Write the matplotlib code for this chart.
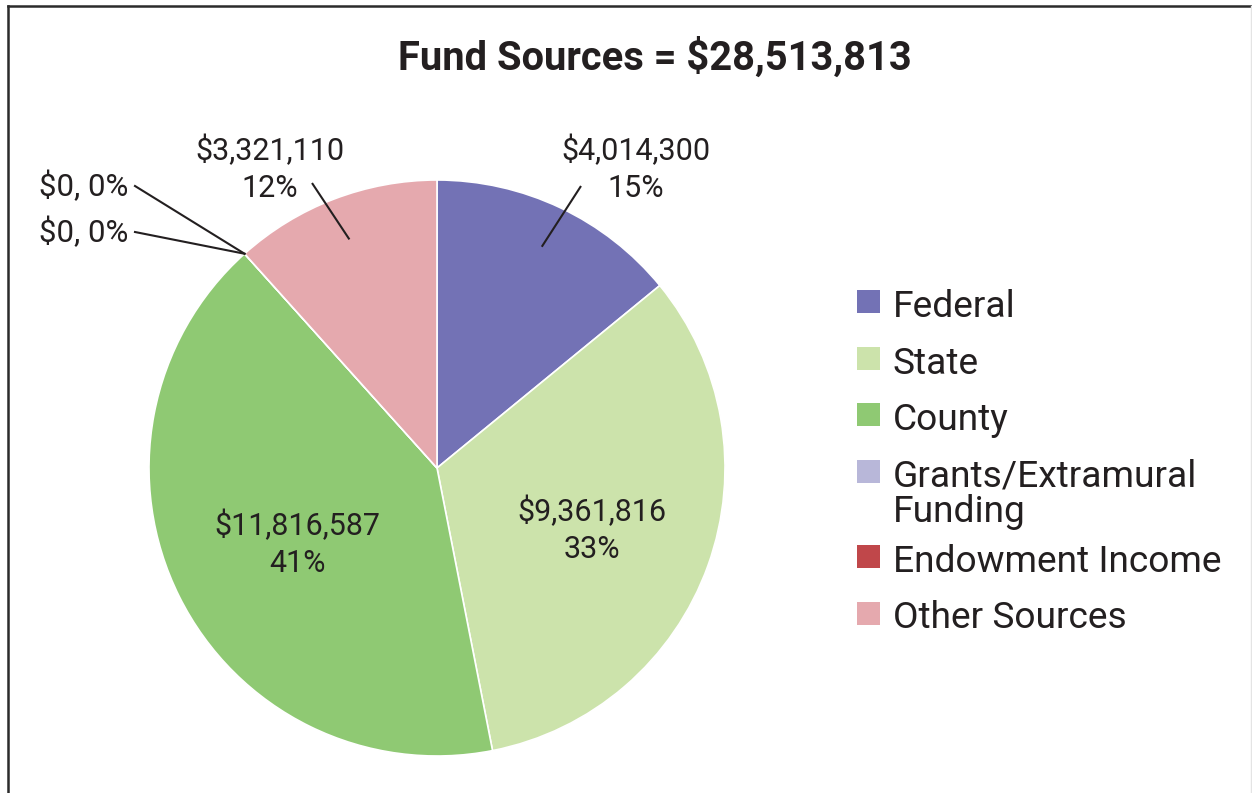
import numpy as np
import matplotlib

matplotlib.use("Agg")
import matplotlib.pyplot as plt  # noqa: E402
from matplotlib.patches import Rectangle  # noqa: E402
from matplotlib.lines import Line2D  # noqa: E402

plt.rcParams["font.family"] = ["Roboto", "DejaVu Sans"]

# data
sources = ["Federal", "State", "County", "Grants/Extramural\nFunding",
           "Endowment Income", "Other Sources"]
amounts = [4014300, 9361816, 11816587, 0, 0, 3321110]
percents = [15, 33, 41, 0, 0, 12]
colors = ["#7372b5", "#cce3ab", "#8fc973", "#b8b7d9", "#c0474a", "#e5a9ae"]
title = "Fund Sources = $28,513,813"

W, H = 1252, 793
INK = "#231f20"


def py(y):
    """top-based pixel row -> data y"""
    return H - y


fig = plt.figure(figsize=(W / 100, H / 100), dpi=100)
ax = fig.add_axes([0, 0, 1, 1])

cx, cy, r = 437, py(468), 288
wedges, _ = ax.pie(amounts, colors=colors, startangle=90, counterclock=False,
                   radius=r, center=(cx, cy),
                   wedgeprops=dict(edgecolor="white", linewidth=1.2))
ax.set_xlim(0, W)
ax.set_ylim(0, H)
ax.set_aspect("equal")
ax.axis("off")


def polar(theta_deg, rr):
    t = np.deg2rad(theta_deg)
    return cx + rr * np.cos(t), cy + rr * np.sin(t)


def fmt(i):
    return f"${amounts[i]:,}\n{percents[i]}%"


lbl = dict(fontsize=22, color=INK, ha="center", va="center",
           linespacing=1.33)

# inside labels: State, County
ax.text(592, py(530), fmt(1), **lbl)
ax.text(297, py(544), fmt(2), **lbl)

# outside labels with leader lines: Federal, Other Sources
for i, tx, ty, ex, ey in [(0, 636, 169, 581, 186), (5, 270, 169, 312, 183)]:
    w = wedges[i]
    mid = (w.theta1 + w.theta2) / 2
    x0, y0 = polar(mid, 0.85 * r)
    ax.plot([x0, ex], [y0, py(ey)], color=INK, lw=1.5, solid_capstyle="butt")
    ax.text(tx, py(ty), fmt(i), **lbl)

# zero-value slices
for i, ly in [(3, 232), (4, 186)]:
    w = wedges[i]
    x0, y0 = polar(w.theta1, r)
    ax.plot([x0, 135], [y0, py(ly)], color=INK, lw=1.5)
    ax.text(128, py(ly), f"${amounts[i]:,}, {percents[i]}%", fontsize=22.5,
            color=INK, ha="right", va="center")

# title
ax.text(655, py(57), title, fontsize=28.7, fontweight="bold", color=INK,
        ha="center", va="center")

# legend, drawn by hand so the two-line entry keeps its swatch on line one
y = 317
for name, col in zip(sources, colors):
    ax.add_patch(Rectangle((857, py(y - 4)), 23, 23, facecolor=col,
                           edgecolor="none"))
    for k, line in enumerate(name.split("\n")):
        ax.text(893, py(y + 36 * k), line, fontsize=26.7, color=INK,
                ha="left", va="baseline")
    y += 56.5 + 29 * name.count("\n")

# frame
fig.add_artist(Line2D([8 / W, 8 / W], [0, 1 - 6 / H], color="#2b2b2b",
                      lw=1.8, transform=fig.transFigure))
fig.add_artist(Line2D([8 / W, 1], [1 - 6 / H, 1 - 6 / H], color="#2b2b2b",
                      lw=1.8, transform=fig.transFigure))
fig.add_artist(Line2D([1250.5 / W, 1250.5 / W], [0, 1 - 6 / H],
                      color="#e4e4e4", lw=1.0, transform=fig.transFigure))

fig.savefig("out.png", dpi=100)
